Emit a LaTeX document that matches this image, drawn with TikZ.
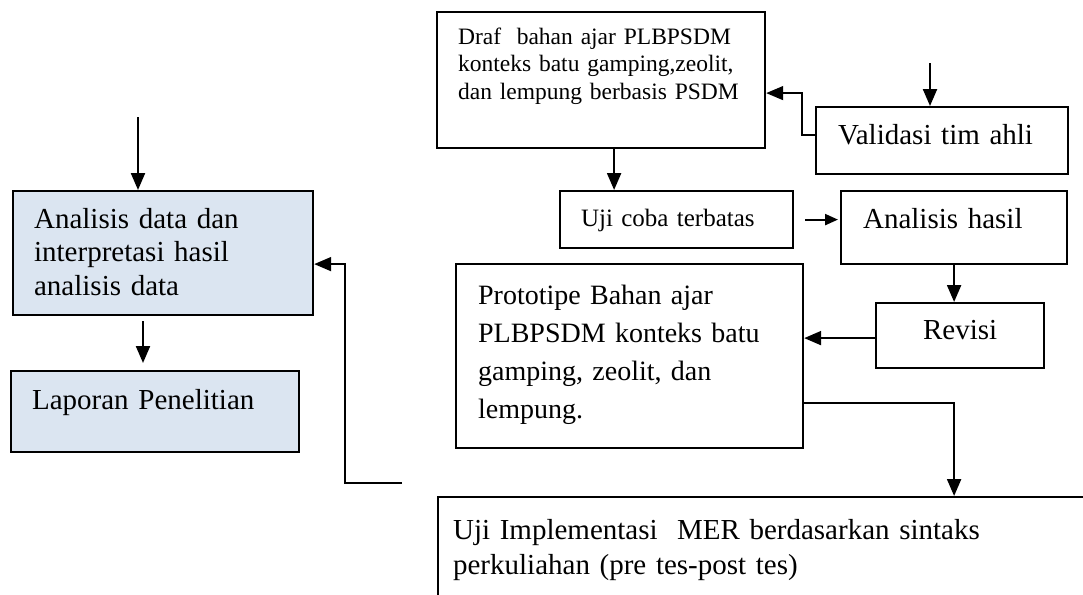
\documentclass[tikz,border=0pt]{standalone}
\usepackage{fontspec}
\setmainfont{Liberation Serif}
\usetikzlibrary{arrows.meta}
\begin{document}
\begin{tikzpicture}[x=1pt,y=-1pt,
  box/.style={draw, line width=2.2pt, anchor=north west, inner ysep=0pt, align=left},
  arr/.style={line width=2.2pt, -{Triangle[length=17pt,width=14pt]}},
  big/.style={font=\fontsize{29}{33.5}\selectfont}]
\useasboundingbox (0,0) rectangle (1083,594);
\definecolor{boxblue}{RGB}{219,229,241}
\node[box, fill=boxblue, inner xsep=21pt, text width=258pt, text height=37pt, text depth=87pt, big] (ana) at (12,190) {Analisis data dan\\interpretasi hasil\\analisis data};
\node[box, fill=boxblue, inner xsep=21pt, text width=246pt, text height=38pt, text depth=43pt, big] (lap) at (10,370) {Laporan Penelitian};
\node[box, inner xsep=21pt, text width=286pt, text height=32pt, text depth=104pt, font=\fontsize{23.5}{27.5}\selectfont] (draf) at (436,11) {Draf\ \ bahan ajar PLBPSDM\\konteks batu gamping,zeolit,\\dan lempung berbasis PSDM};
\node[box, inner xsep=22pt, text width=208pt, text height=37pt, text depth=30pt, big] (val) at (815,106) {Validasi tim ahli};
\node[box, inner xsep=21pt, text width=191pt, text height=35pt, text depth=22pt, font=\fontsize{25}{29}\selectfont] (uji) at (559,190) {Uji coba terbatas};
\node[box, inner xsep=22pt, text width=182pt, text height=37pt, text depth=36pt, big] (hasil) at (840,190) {Analisis hasil};
\node[box, align=center, inner xsep=10pt, text width=148pt, text height=36pt, text depth=29pt, big] (rev) at (875,302) {Revisi};
\node[box, inner xsep=22pt, text width=303pt, text height=40pt, text depth=144pt, font=\fontsize{28}{38}\selectfont] (proto) at (455,263) {Prototipe Bahan ajar\\PLBPSDM konteks batu\\gamping, zeolit, dan\\lempung.};
\node[box, inner xsep=15pt, text width=633pt, text height=42pt, text depth=80pt, font=\fontsize{29}{35}\selectfont] (impl) at (437,496) {Uji Implementasi\ \ MER berdasarkan sintaks\\perkuliahan (pre tes-post tes)};
\coordinate (inA) at (138,117);
\draw[arr] (inA) -- (inA |- ana.north);
\draw[arr] ([shift={(131,5)}]ana.south west) -- ([shift={(133,-7)}]lap.north west);
\coordinate (back) at (402,483);
\draw[arr, line width=1.8pt] (back) -- ++(-57,0) |- ([yshift=-11pt]ana.east);
\coordinate (inV) at (930,63);
\draw[arr] (inV) -- (inV |- val.north);
\draw[arr, line width=1.4pt] ([yshift=5.5pt]val.west) -- ++(-13,0) |- ([yshift=-13pt]draf.east);
\draw[arr] ([xshift=13pt]draf.south) -- ([xshift=13pt]draf.south |- uji.north);
\draw[line width=2.2pt, -{Triangle[length=13pt,width=11pt]}] ([xshift=11pt]uji.east) -- ([xshift=-2pt]hasil.west |- uji.east);
\draw[arr] (hasil.south) -- (hasil.south |- rev.north);
\draw[arr] ([yshift=-2.5pt]rev.west) -- ([yshift=-2.5pt]rev.west -| proto.east);
\draw[arr] ([yshift=-47pt]proto.east) -| (hasil.south |- impl.north);
\end{tikzpicture}
\end{document}
